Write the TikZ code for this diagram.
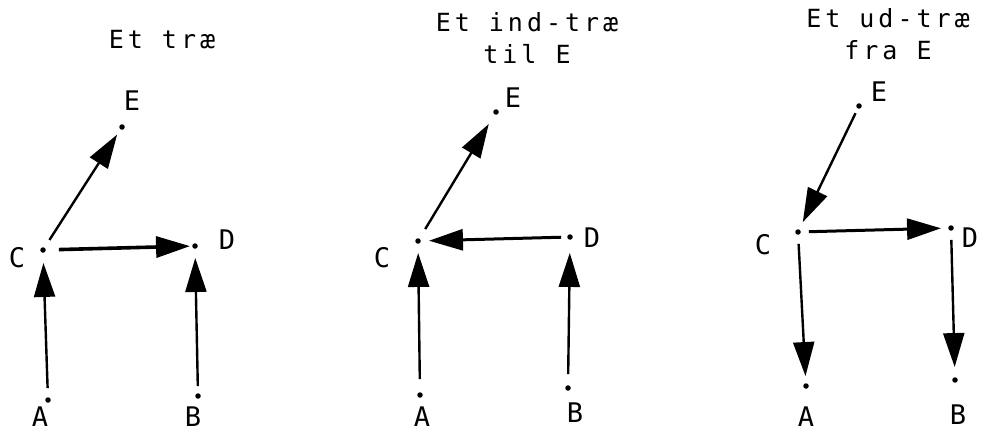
\documentclass[tikz,border=0pt]{standalone}
\usepackage{fontspec}
\setmainfont{DejaVu Sans Mono}
\newfontfamily\ttlfont[LetterSpace=16]{DejaVu Sans Mono}
\usetikzlibrary{arrows.meta}
\begin{document}
\begin{tikzpicture}[x=1pt,y=-1pt,
  dot/.style={circle,fill=black,inner sep=0pt,minimum size=5.5pt},
  lbl/.style={font=\fontsize{27}{27}\selectfont,inner sep=0pt},
  ttl/.style={font=\ttlfont\fontsize{25}{32}\selectfont,inner sep=0pt,align=center},
  arr/.style={line width=2.4pt,-{Triangle[length=34pt,width=21pt]}},
  harr/.style={arr,line width=3.6pt}]
\useasboundingbox (0,0) rectangle (981,433);

% ---------- Panel 1 ----------
\node[ttl] (T1) at (162,40) {Et træ};
\node[dot] (E1) at (122,127) {};
\node[dot] (C1) at (43,250) {};
\node[dot] (D1) at (195,246) {};
\node[dot] (A1) at (48,400) {};
\node[dot] (B1) at (198,396) {};
\node[lbl] (lE1) at (132,101) {E};
\node[lbl] (lC1) at (17,258) {C};
\node[lbl] (lD1) at (227,240) {D};
\node[lbl] (lA1) at (40,417) {A};
\node[lbl] (lB1) at (193,417) {B};
\draw[arr,shorten <=9pt,shorten >=10pt] (A1) -- (C1);
\draw[arr,shorten <=9pt,shorten >=6pt] (C1) -- (E1);
\draw[harr,shorten <=13pt,shorten >=2pt] (C1) -- (D1);
\draw[arr,shorten <=7pt,shorten >=9pt] (B1) -- (D1);

% ---------- Panel 2 ----------
\node[ttl] (T2) at (527,38) {Et ind-træ\\til E};
\node[dot] (E2) at (496,112) {};
\node[dot] (C2) at (418,241) {};
\node[dot] (D2) at (570,237) {};
\node[dot] (A2) at (420,395) {};
\node[dot] (B2) at (568,388) {};
\node[lbl] (lE2) at (513,98) {E};
\node[lbl] (lC2) at (382,258) {C};
\node[lbl] (lD2) at (592,238) {D};
\node[lbl] (lA2) at (422,417) {A};
\node[lbl] (lB2) at (575,413) {B};
\draw[arr,shorten <=11pt,shorten >=11pt] (C2) -- (E2);
\draw[harr,line width=3pt,shorten <=6pt,shorten >=8pt] (D2) -- (C2);
\draw[arr,shorten <=13pt,shorten >=9pt] (A2) -- (C2);
\draw[arr,shorten <=11pt,shorten >=13pt] (B2) -- (D2);

% ---------- Panel 3 ----------
\node[ttl] (T3) at (888,34) {Et ud-træ\\fra E};
\node[dot] (E3) at (859,106) {};
\node[dot] (C3) at (798,232) {};
\node[dot] (D3) at (951,228) {};
\node[dot] (A3) at (806,386) {};
\node[dot] (B3) at (955,380) {};
\node[lbl] (lE3) at (879,92) {E};
\node[lbl] (lC3) at (763,245) {C};
\node[lbl] (lD3) at (970,238) {D};
\node[lbl] (lA3) at (806,417) {A};
\node[lbl] (lB3) at (958,415) {B};
\draw[arr,shorten <=5pt,shorten >=8pt] (E3) -- (C3);
\draw[harr,line width=3pt,shorten <=8pt,shorten >=7pt] (C3) -- (D3);
\draw[arr,shorten <=9pt,shorten >=7pt] (C3) -- (A3);
\draw[arr,shorten <=9pt,shorten >=10pt] (D3) -- (B3);
\end{tikzpicture}
\end{document}
